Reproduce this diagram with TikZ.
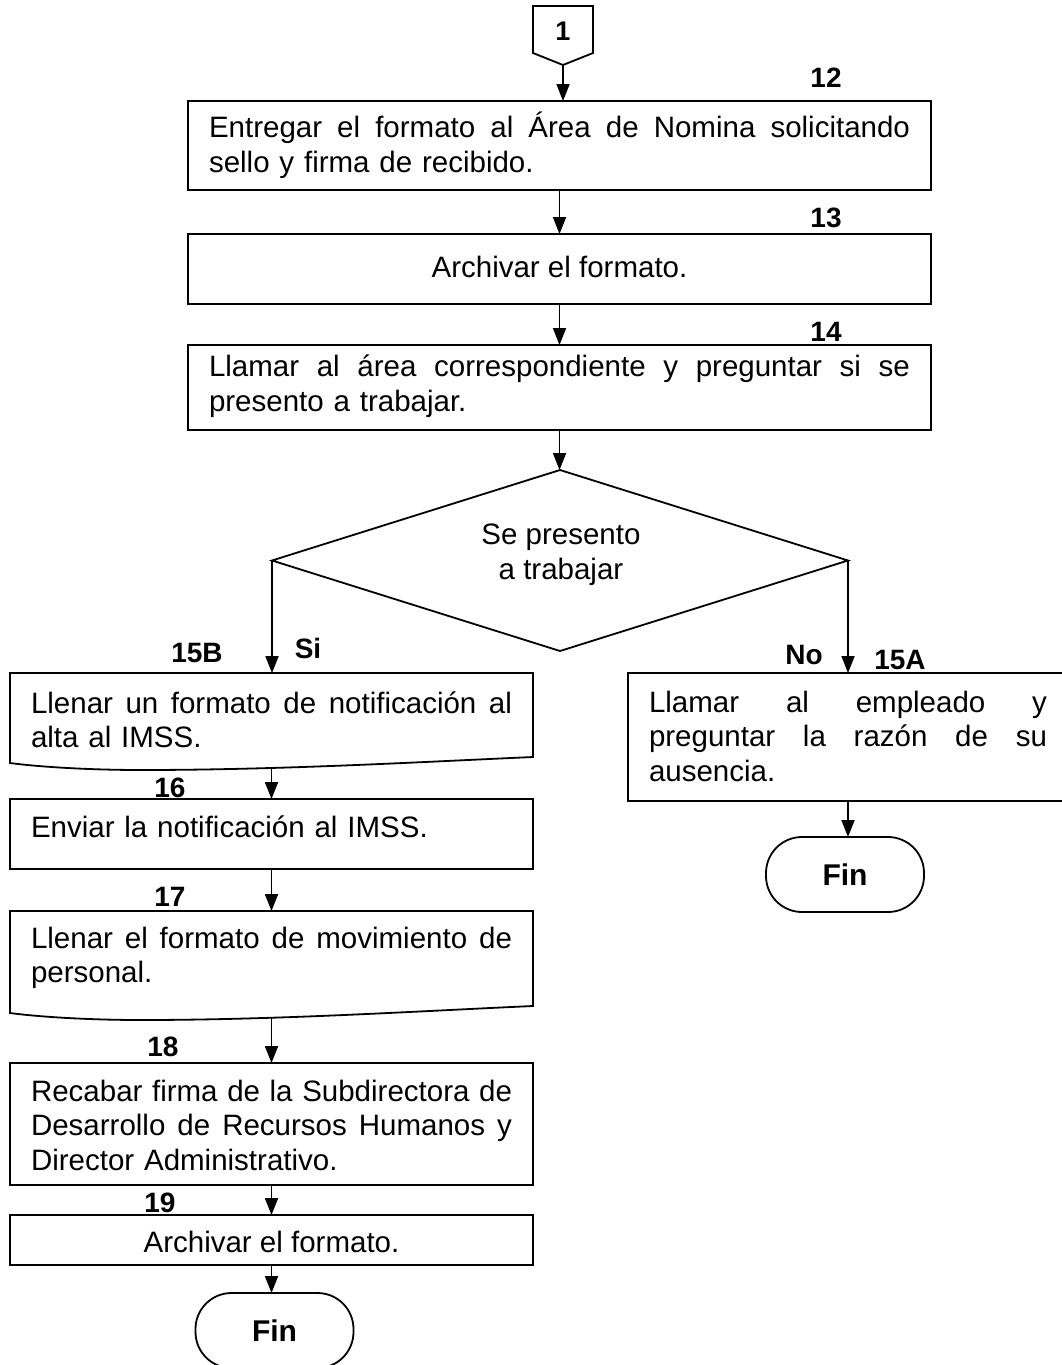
\documentclass[tikz,border=0pt]{standalone}
\usepackage{fontspec}
\setmainfont{Liberation Sans}
\usetikzlibrary{arrows.meta,shapes.geometric}
\newcommand\jl[2]{\leavevmode\hbox to #1{\spaceskip=0pt plus 1fil\xspaceskip=0pt plus 1fil\relax #2}}
\begin{document}
\begin{tikzpicture}[x=1pt,y=-1pt,
  boxline/.style={line width=1.8pt, line join=miter},
  box/.style={boxline, draw, inner sep=0pt, outer sep=0pt},
  hold/.style={inner sep=0pt, outer sep=0pt},
  txt/.style={font=\fontsize{29.5}{34.5}\selectfont, inner sep=0pt, align=left},
  ctxt/.style={font=\fontsize{29.5}{34.5}\selectfont, inner sep=0pt, align=center},
  num/.style={font=\fontsize{28}{30}\selectfont\bfseries, inner sep=0pt},
  term/.style={boxline, draw, rounded corners=36pt, minimum width=158pt, minimum height=75pt, inner sep=0pt, outer sep=0pt, font=\fontsize{30}{32}\selectfont\bfseries},
  arr/.style={line width=1.8pt, -{Triangle[length=17pt,width=13pt]}}
]
\useasboundingbox[fill=white] (0,0) rectangle (1062,1365);

% off-page connector 1
\draw[boxline] (533,6) -- (593,6) -- (593,53) -- (563,65) -- (533,53) -- cycle;
\node[num, font=\fontsize{27}{29}\selectfont\bfseries] (c1) at (563,31) {1};
\coordinate (c1b) at (563,65);

% main column
\node[box, minimum width=743pt, minimum height=89pt] (b12) at (559.5,145.5) {};
\node[txt, text width=701pt] (t12) at (559.5,145.5) {\jl{701pt}{Entregar el formato al Área de Nomina solicitando}\\sello y firma de recibido.};
\node[box, minimum width=743pt, minimum height=70pt] (b13) at (559.5,269) {};
\node[ctxt] (t13) at (559.5,267) {Archivar el formato.};
\node[box, minimum width=743pt, minimum height=85pt] (b14) at (559.5,387.5) {};
\node[txt, text width=701pt] (t14) at (559.5,386) {\jl{701pt}{Llamar al área correspondiente y preguntar si se}\\presento a trabajar.};

% decision
\node[boxline, draw, diamond, aspect=3.18, minimum width=576pt, minimum height=181pt, inner sep=0pt, outer sep=0pt] (d) at (560,560.5) {};
\node[ctxt] (td) at (561,555) {Se presento\\a trabajar};

% left branch
\node[hold, minimum width=523pt, minimum height=94pt] (b15) at (271.5,720) {};
\draw[boxline] (b15.north west) -- (b15.north east) -- (533,757) .. controls (420,762) and (280,770) .. (141,770) .. controls (90,770) and (40,767) .. (10,763) -- cycle;
\node[txt, text width=481pt] (t15) at (271.5,720) {\jl{481pt}{Llenar un formato de notificación al}\\alta al IMSS.};

\node[box, minimum width=523pt, minimum height=70pt] (b16) at (271.5,834) {};
\node[txt, text width=481pt] (t16) at (271.5,827) {Enviar la notificación al IMSS.};

\node[hold, minimum width=523pt, minimum height=94pt] (b17) at (271.5,958) {};
\draw[boxline] (b17.north west) -- (b17.north east) -- (533,1006) .. controls (420,1011) and (280,1020) .. (141,1020) .. controls (90,1020) and (40,1017) .. (10,1013) -- cycle;
\node[txt, text width=481pt] (t17) at (271.5,958) {\jl{481pt}{Llenar el formato de movimiento de}\\personal.};
\coordinate (w17) at (271.5,1017);

\node[box, minimum width=523pt, minimum height=122pt] (b18) at (271.5,1124) {};
\node[txt, text width=481pt] (t18) at (271.5,1125) {\jl{481pt}{Recabar firma de la Subdirectora de}\\\jl{481pt}{Desarrollo de Recursos Humanos y}\\Director Administrativo.};

\node[box, minimum width=523pt, minimum height=50pt] (b19) at (271.5,1240) {};
\node[ctxt] (t19) at (271.5,1242) {Archivar el formato.};

\node[term] (fin1) at (274.5,1330.5) {Fin};

% right branch
\node[box, minimum width=440pt, minimum height=128pt] (b15a) at (848,737) {};
\node[txt, text width=398pt] (t15a) at (848,736) {\jl{398pt}{Llamar al empleado y}\\\jl{398pt}{preguntar la razón de su}\\ausencia.};
\node[term] (fin2) at (845,874.5) {Fin};

% step numbers and branch labels
\node[num] (l12) at (826,78) {12};
\node[num] (l13) at (826,218) {13};
\node[num] (l14) at (826,332) {14};
\node[num] (l15b) at (197,653) {15B};
\node[num] (lsi) at (308,648) {Si};
\node[num] (lno) at (804,655) {No};
\node[num] (l15a) at (900,660) {15A};
\node[num] (l16) at (170,788) {16};
\node[num] (l17) at (170,897) {17};
\node[num] (l18) at (163,1047) {18};
\node[num] (l19) at (160,1203) {19};

% connectors
\draw[arr] (c1b) -- (c1b |- b12.north);
\draw[arr] (b12.south) -- (b13.north);
\draw[arr] (b13.south) -- (b14.north);
\draw[arr] (b14.south) -- (b14.south |- d.north);
\draw[arr] (d.west) -- (d.west |- b15.north);
\draw[arr] (d.east) -- (d.east |- b15a.north);
\draw[arr] (b15.south) -- (b16.north);
\draw[arr] (b16.south) -- (b17.north);
\draw[arr] (w17) -- (w17 |- b18.north);
\draw[arr] (b18.south) -- (b19.north);
\draw[arr] (b19.south) -- (b19.south |- fin1.north);
\draw[arr] (b15a.south) -- (b15a.south |- fin2.north);
\end{tikzpicture}
\end{document}
